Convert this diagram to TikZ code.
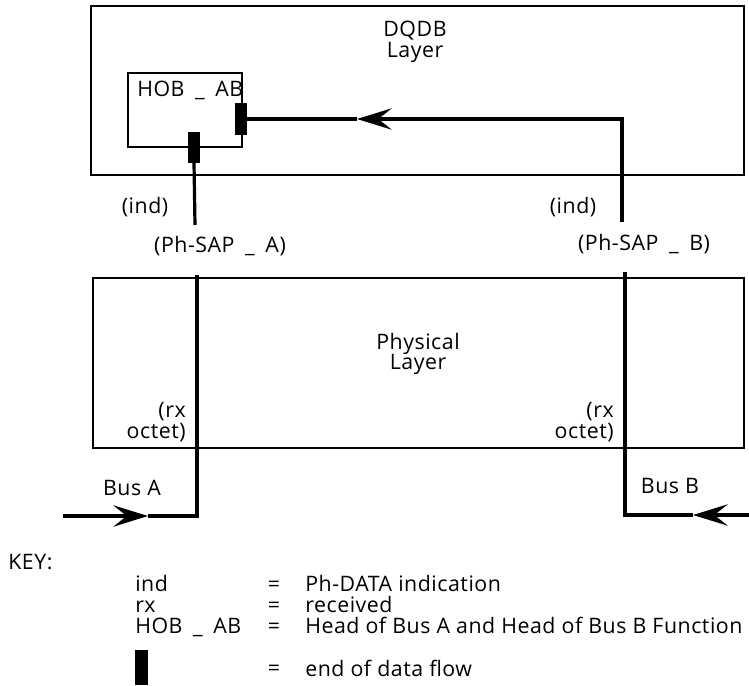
\documentclass[tikz,border=0pt]{standalone}
\usepackage{fontspec}
\setmainfont{Open Sans}[LetterSpace=2.5]
\usetikzlibrary{arrows.meta,fit}
\begin{document}
\begin{tikzpicture}[x=0.75pt,y=-0.75pt,font=\fontsize{16}{15.4}\selectfont,
  layerbox/.style={draw,line width=1.5pt,inner sep=0pt},
  funcbox/.style={draw,line width=1.1pt,inner sep=0pt},
  endbar/.style={fill=black,inner sep=0pt,minimum width=9pt,minimum height=24pt},
  flow/.style={line width=2.4pt},
  flowtip/.style={-{Stealth[length=26pt,width=16pt,inset=10pt]}},
  lbl/.style={inner sep=0pt,align=center}]
  \useasboundingbox (0,0) rectangle (749,685);

  % layers
  \node[layerbox,fit={(91,6) (744,175)}] (dqdb) {};
  \node[layerbox,fit={(93,278) (744,448)}] (phy) {};
  \node[funcbox,fit={(128,73) (242,147)}] (hob) {};
  \node[endbar] (barB) at (241,119) {};
  \node[endbar,minimum height=23pt] (barA) at (194,147.5) {};

  \node[lbl] (dqdbname) at (415,42) {DQDB\\Layer};
  \node[lbl] (phyname) at (418,354) {Physical\\Layer};
  \node[lbl,anchor=west] (hobname) at (137,90) {HOB\enspace\_\enspace AB};

  % connection points
  \coordinate (indA) at (195,225);
  \coordinate (indB) at (622,222);
  \coordinate (bendB) at (622,119);
  \coordinate (tipB) at (357,119);
  \coordinate (rxA) at (197,275);
  \coordinate (busAcorner) at (197,516);
  \coordinate (busAtip) at (148,516);
  \coordinate (busAin) at (63,516);
  \coordinate (rxB) at (625,272);
  \coordinate (busBcorner) at (625,515);
  \coordinate (busBtip) at (693,515);
  \coordinate (busBin) at (749,515);

  % data flow
  \draw[flow] (barA.south) -- (indA);
  \draw[flow,flowtip] (indB) -- (bendB) -- (tipB);
  \draw[flow] (tipB) -- (barB.east);
  \draw[flow,flowtip] (busAin) -- (busAtip);
  \draw[flow] (busAtip) -- (busAcorner) -- (rxA);
  \draw[flow,flowtip] (busBin) -- (busBtip);
  \draw[flow] (busBtip) -- (busBcorner) -- (rxB);

  \node[lbl] (indAlbl) at (145,207) {(ind)};
  \node[lbl] (indBlbl) at (573,207) {(ind)};
  \node[lbl] (sapA) at (220,246) {(Ph-SAP\enspace\_\enspace A)};
  \node[lbl] (sapB) at (644,244) {(Ph-SAP\enspace\_\enspace B)};
  \node[lbl,align=right,anchor=east] (rxAlbl) at (186,422) {(rx\\octet)};
  \node[lbl,align=right,anchor=east] (rxBlbl) at (614,422) {(rx\\octet)};
  \node[lbl] (busAlbl) at (132,488) {Bus A};
  \node[lbl] (busBlbl) at (670,486) {Bus B};

  % key
  \node[lbl,anchor=west] (keyhead) at (8,562) {KEY:};
  \node[lbl,align=left,anchor=base west] (keyabbr) at (135,633) {ind\\rx\\HOB\enspace\_\enspace AB};
  \node[lbl,anchor=base] (keyeq) at (274,633) {=\\=\\=};
  \node[lbl,align=left,anchor=base west] (keytxt) at (305,633)
    {Ph-DATA indication\\received\\Head of Bus A and Head of Bus B Function};
  \node[endbar,minimum width=9.75pt,minimum height=26pt] (keybar) at (141.5,667.5) {};
  \node[lbl] (eqbar) at (274,670) {=};
  \node[lbl,anchor=west] (txtbar) at (305,668) {end of data flow};
\end{tikzpicture}
\end{document}
